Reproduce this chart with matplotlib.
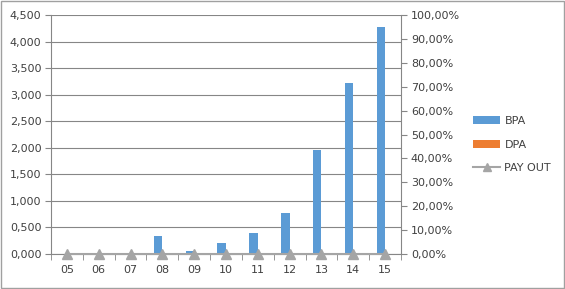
import matplotlib.pyplot as plt
import numpy as np

years = ["05", "06", "07", "08", "09", "10", "11", "12", "13", "14", "15"]
bpa = [0.0, 0.0, 0.0, 0.34, 0.06, 0.21, 0.40, 0.78, 1.96, 3.22, 4.27]
dpa = [0.0] * 11
payout = [0.0] * 11

left_ticks = [0.0, 0.5, 1.0, 1.5, 2.0, 2.5, 3.0, 3.5, 4.0, 4.5]
right_ticks = [0.0, 0.1, 0.2, 0.3, 0.4, 0.5, 0.6, 0.7, 0.8, 0.9, 1.0]

BLUE = "#5B9BD5"
ORANGE = "#ED7D31"
GREY = "#A5A5A5"
AXIS = "#868686"
TEXT = "#404040"

plt.rcParams["font.family"] = ["DejaVu Sans"]

fig = plt.figure(figsize=(5.65, 2.89), dpi=100)
fig.patches.append(plt.Rectangle((0.001, 0.002), 0.997, 0.995, transform=fig.transFigure,
                                 fill=False, edgecolor="#A0A0A0", linewidth=1.0))

ax = fig.add_axes([0.0903, 0.1211, 0.6195, 0.827])
x = np.arange(len(years))
w = 0.27
ax.bar(x - w / 2, bpa, w, color=BLUE, label="BPA", zorder=3)
ax.bar(x + w / 2, dpa, w, color=ORANGE, label="DPA", zorder=3)

ax.set_xlim(-0.5, len(years) - 0.5)
ax.set_ylim(0, 4.5)
ax.set_yticks(left_ticks)
ax.set_yticklabels([f"{v:.3f}".replace(".", ",") for v in left_ticks])
ax.set_xticks(x)
ax.set_xticklabels(years)
ax.set_xticks(np.arange(-0.5, len(years)), minor=True)
ax.tick_params(axis="x", which="major", length=0, pad=8, labelsize=8, colors=TEXT)
ax.tick_params(axis="x", which="minor", length=4, color=AXIS)
ax.tick_params(axis="y", length=4, color=AXIS, labelsize=8, labelcolor=TEXT, pad=3)
ax.grid(axis="y", color="#868686", linewidth=0.8, zorder=0)
for s in ("top", "right"):
    ax.spines[s].set_visible(False)
for s in ("left", "bottom"):
    ax.spines[s].set_color(AXIS)

ax2 = ax.twinx()
ax2.plot(x, payout, color=GREY, marker="^", markersize=7, linewidth=1.5,
         label="PAY OUT", zorder=5, clip_on=False)
ax2.set_ylim(0, 1.0)
ax2.set_yticks(right_ticks)
ax2.set_yticklabels([f"{v * 100:.2f}%".replace(".", ",") for v in right_ticks])
ax2.tick_params(axis="y", length=4, color=AXIS, labelsize=8, labelcolor=TEXT, pad=3)
for s in ("top", "left", "bottom"):
    ax2.spines[s].set_visible(False)
ax2.spines["right"].set_color(AXIS)

h1, l1 = ax.get_legend_handles_labels()
h2, l2 = ax2.get_legend_handles_labels()
fig.legend(h1 + h2, l1 + l2, loc="center left", bbox_to_anchor=(0.82, 0.5),
           bbox_transform=fig.transFigure, frameon=False, fontsize=8,
           labelcolor=TEXT, handlelength=2.4, handleheight=0.7, handletextpad=0.4,
           labelspacing=1.2, markerscale=0.75)

fig.savefig("out.png", dpi=100)
